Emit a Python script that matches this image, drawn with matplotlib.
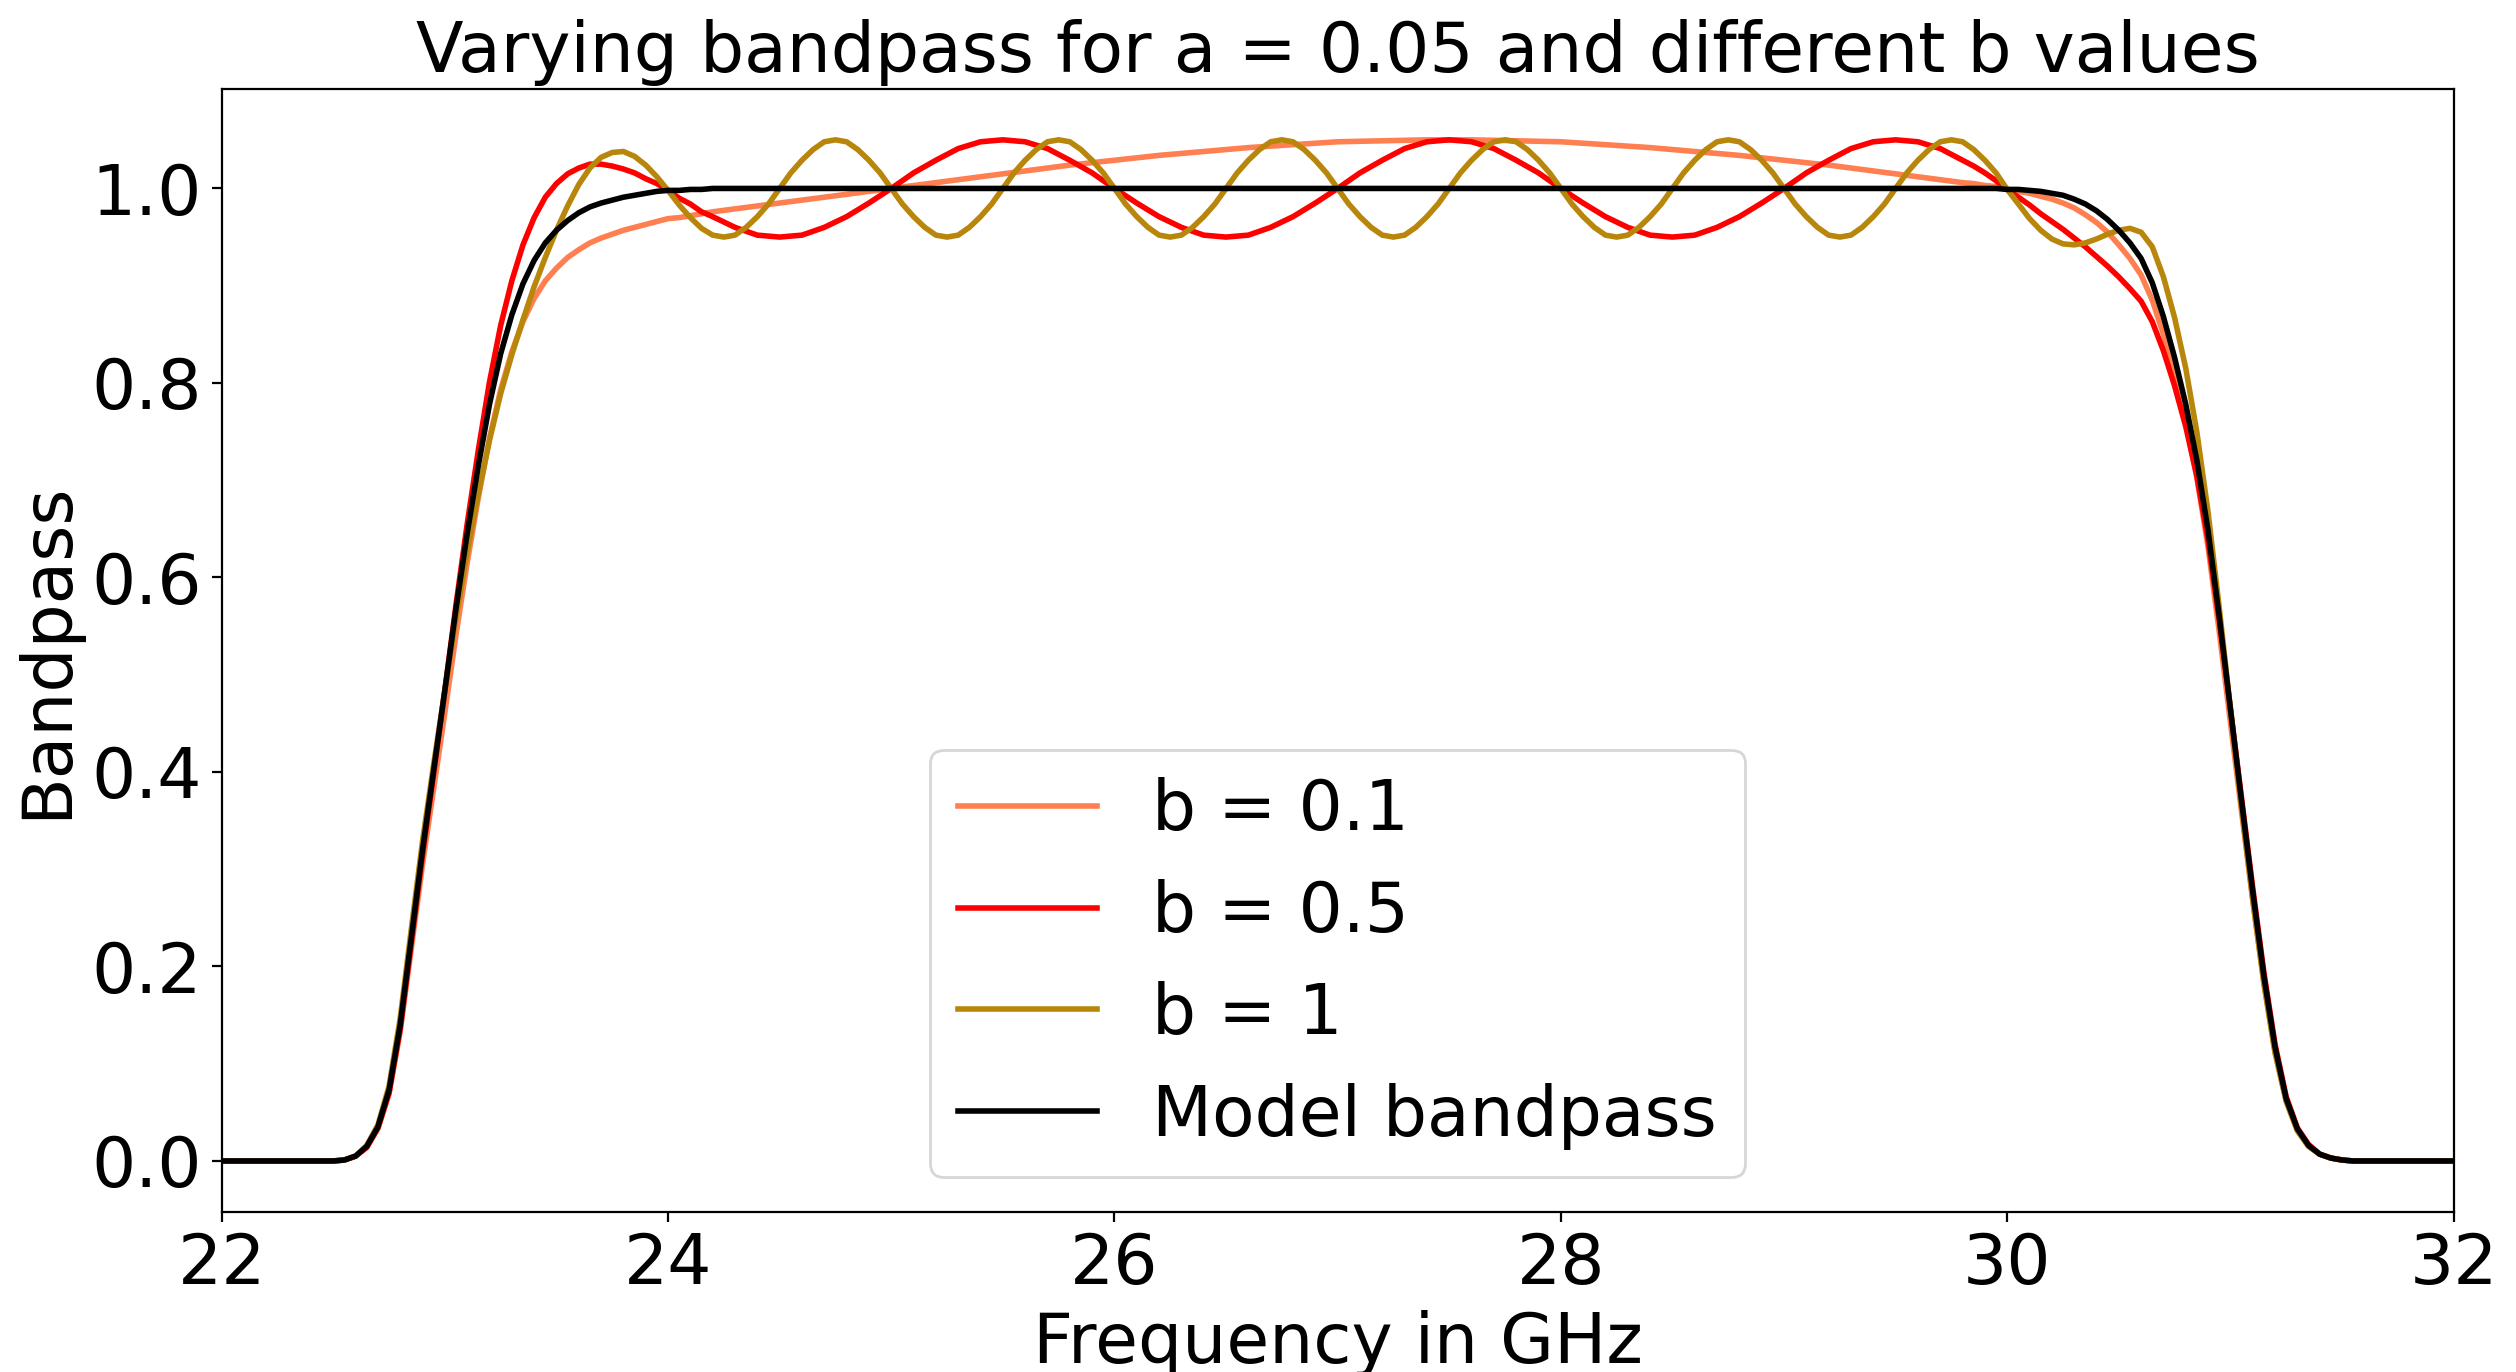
import matplotlib
matplotlib.use("Agg")
import matplotlib.pyplot as plt

# ---------------- data ----------------
FREQ_START = [22.0]
FREQ_END = [32.0]
FREQ_RISE = [22.50, 22.55, 22.60, 22.65, 22.70, 22.75, 22.80, 22.85, 22.90, 22.95,
             23.00, 23.05, 23.10, 23.15, 23.20, 23.25, 23.30, 23.35, 23.40, 23.45,
             23.50, 23.55, 23.60, 23.65, 23.70, 23.75, 23.80, 23.85, 23.90, 23.95,
             24.00, 24.05, 24.10, 24.15, 24.20]
FREQ_FALL = [29.80, 29.85, 29.90, 29.95,
             30.00, 30.05, 30.10, 30.15, 30.20, 30.25, 30.30, 30.35, 30.40, 30.45,
             30.50, 30.55, 30.60, 30.65, 30.70, 30.75, 30.80, 30.85, 30.90, 30.95,
             31.00, 31.05, 31.10, 31.15, 31.20, 31.25, 31.30, 31.35, 31.40, 31.45,
             31.50, 31.55]

# Model bandpass
model_rise = [0.000, 0.001, 0.005, 0.015, 0.035, 0.073, 0.140, 0.230, 0.320, 0.402,
              0.484, 0.568, 0.645, 0.715, 0.778, 0.830, 0.870, 0.902, 0.926, 0.944,
              0.957, 0.967, 0.975, 0.981, 0.985, 0.988, 0.991, 0.993, 0.995, 0.997,
              0.998, 0.998, 0.999, 0.999, 1.000]
model_fall = [1.000, 1.000, 1.000, 1.000,
              0.999, 0.999, 0.998, 0.997, 0.995, 0.993, 0.989, 0.984, 0.977, 0.968,
              0.957, 0.944, 0.928, 0.903, 0.868, 0.826, 0.778, 0.720, 0.648, 0.560,
              0.465, 0.370, 0.277, 0.190, 0.117, 0.064, 0.033, 0.016, 0.007, 0.003,
              0.001, 0.000]

# b = 0.1
b01_plateau_freq = [24.4, 24.6, 24.8, 25.0, 25.2, 25.4, 25.6, 25.8, 26.0, 26.2,
                    26.4, 26.6, 26.8, 27.0, 27.2, 27.4, 27.6, 27.8, 28.0, 28.2,
                    28.4, 28.6, 28.8, 29.0, 29.2, 29.4, 29.6]
b01_rise = [0.000, 0.001, 0.005, 0.014, 0.033, 0.069, 0.133, 0.219, 0.305, 0.383,
            0.461, 0.541, 0.615, 0.682, 0.743, 0.793, 0.832, 0.863, 0.887, 0.905,
            0.918, 0.929, 0.937, 0.944, 0.949, 0.953, 0.957, 0.960, 0.963, 0.966,
            0.969, 0.970, 0.972, 0.974, 0.976]
b01_plateau = [0.982, 0.988, 0.994, 1.000, 1.006, 1.012, 1.018, 1.024, 1.029, 1.034,
               1.038, 1.042, 1.045, 1.048, 1.049, 1.050, 1.050, 1.049, 1.048, 1.045,
               1.042, 1.038, 1.034, 1.029, 1.024, 1.018, 1.012]
b01_fall = [1.006, 1.005, 1.003, 1.002,
            0.999, 0.997, 0.995, 0.992, 0.989, 0.985, 0.980, 0.973, 0.965, 0.955,
            0.942, 0.928, 0.911, 0.885, 0.850, 0.807, 0.759, 0.702, 0.631, 0.544,
            0.451, 0.359, 0.268, 0.184, 0.113, 0.062, 0.032, 0.015, 0.007, 0.003,
            0.001, 0.000]

# b = 0.5
b05_plateau_freq = [24.3, 24.4, 24.5, 24.6, 24.7, 24.8, 24.9,
                    25.0, 25.1, 25.2, 25.3, 25.4, 25.5, 25.6, 25.7, 25.8, 25.9,
                    26.0, 26.1, 26.2, 26.3, 26.4, 26.5, 26.6, 26.7, 26.8, 26.9,
                    27.0, 27.1, 27.2, 27.3, 27.4, 27.5, 27.6, 27.7, 27.8, 27.9,
                    28.0, 28.1, 28.2, 28.3, 28.4, 28.5, 28.6, 28.7, 28.8, 28.9,
                    29.0, 29.1, 29.2, 29.3, 29.4, 29.5, 29.6, 29.7]
b05_rise = [0.000, 0.001, 0.005, 0.014, 0.034, 0.070, 0.136, 0.225, 0.315, 0.399,
            0.484, 0.572, 0.655, 0.731, 0.801, 0.859, 0.905, 0.942, 0.970, 0.991,
            1.005, 1.015, 1.021, 1.025, 1.025, 1.023, 1.020, 1.016, 1.010, 1.005,
            0.998, 0.990, 0.984, 0.976, 0.971]
b05_plateau = [0.960, 0.952, 0.950, 0.952, 0.960, 0.971, 0.985,
               1.000, 1.016, 1.029, 1.041, 1.048, 1.050, 1.048, 1.041, 1.029, 1.016,
               1.000, 0.985, 0.971, 0.960, 0.952, 0.950, 0.952, 0.960, 0.971, 0.985,
               1.000, 1.016, 1.029, 1.041, 1.048, 1.050, 1.048, 1.041, 1.029, 1.016,
               1.000, 0.985, 0.971, 0.960, 0.952, 0.950, 0.952, 0.960, 0.971, 0.985,
               1.000, 1.016, 1.029, 1.041, 1.048, 1.050, 1.048, 1.041]
b05_fall = [1.029, 1.023, 1.016, 1.008,
            0.999, 0.991, 0.983, 0.974, 0.966, 0.958, 0.949, 0.940, 0.930, 0.920,
            0.909, 0.897, 0.884, 0.863, 0.833, 0.797, 0.755, 0.704, 0.638, 0.556,
            0.465, 0.373, 0.281, 0.194, 0.120, 0.066, 0.034, 0.017, 0.007, 0.003,
            0.001, 0.000]

# b = 1
b1_plateau_freq = [24.25, 24.30, 24.35, 24.40, 24.45, 24.50, 24.55, 24.60, 24.65, 24.70,
                   24.75, 24.80, 24.85, 24.90, 24.95,
                   25.00, 25.05, 25.10, 25.15, 25.20, 25.25, 25.30, 25.35, 25.40, 25.45,
                   25.50, 25.55, 25.60, 25.65, 25.70, 25.75, 25.80, 25.85, 25.90, 25.95,
                   26.00, 26.05, 26.10, 26.15, 26.20, 26.25, 26.30, 26.35, 26.40, 26.45,
                   26.50, 26.55, 26.60, 26.65, 26.70, 26.75, 26.80, 26.85, 26.90, 26.95,
                   27.00, 27.05, 27.10, 27.15, 27.20, 27.25, 27.30, 27.35, 27.40, 27.45,
                   27.50, 27.55, 27.60, 27.65, 27.70, 27.75, 27.80, 27.85, 27.90, 27.95,
                   28.00, 28.05, 28.10, 28.15, 28.20, 28.25, 28.30, 28.35, 28.40, 28.45,
                   28.50, 28.55, 28.60, 28.65, 28.70, 28.75, 28.80, 28.85, 28.90, 28.95,
                   29.00, 29.05, 29.10, 29.15, 29.20, 29.25, 29.30, 29.35, 29.40, 29.45,
                   29.50, 29.55, 29.60, 29.65, 29.70, 29.75]
b1_rise = [0.000, 0.001, 0.005, 0.016, 0.037, 0.077, 0.147, 0.239, 0.329, 0.408,
           0.484, 0.559, 0.626, 0.686, 0.741, 0.789, 0.829, 0.865, 0.899, 0.929,
           0.957, 0.982, 1.004, 1.021, 1.032, 1.037, 1.038, 1.033, 1.024, 1.012,
           0.998, 0.983, 0.970, 0.959, 0.952]
b1_plateau = [0.950, 0.952, 0.960, 0.971, 0.984, 1.000, 1.016, 1.029, 1.040, 1.048,
              1.050, 1.048, 1.040, 1.029, 1.016,
              1.000, 0.984, 0.971, 0.960, 0.952, 0.950, 0.952, 0.960, 0.971, 0.984,
              1.000, 1.016, 1.029, 1.040, 1.048, 1.050, 1.048, 1.040, 1.029, 1.016,
              1.000, 0.984, 0.971, 0.960, 0.952, 0.950, 0.952, 0.960, 0.971, 0.984,
              1.000, 1.016, 1.029, 1.040, 1.048, 1.050, 1.048, 1.040, 1.029, 1.016,
              1.000, 0.984, 0.971, 0.960, 0.952, 0.950, 0.952, 0.960, 0.971, 0.984,
              1.000, 1.016, 1.029, 1.040, 1.048, 1.050, 1.048, 1.040, 1.029, 1.016,
              1.000, 0.984, 0.971, 0.960, 0.952, 0.950, 0.952, 0.960, 0.971, 0.984,
              1.000, 1.016, 1.029, 1.040, 1.048, 1.050, 1.048, 1.040, 1.029, 1.016,
              1.000, 0.984, 0.971, 0.960, 0.952, 0.950, 0.952, 0.960, 0.971, 0.984,
              1.000, 1.016, 1.029, 1.040, 1.048, 1.050]
b1_fall = [1.048, 1.040, 1.029, 1.016,
           0.999, 0.984, 0.969, 0.957, 0.948, 0.943, 0.942, 0.944, 0.948, 0.953,
           0.957, 0.959, 0.955, 0.940, 0.909, 0.867, 0.815, 0.749, 0.667, 0.569,
           0.465, 0.364, 0.269, 0.182, 0.111, 0.061, 0.031, 0.015, 0.007, 0.003,
           0.001, 0.000]

labels = ["b = 0.1", "b = 0.5", "b = 1", "Model bandpass"]
colors = ["coral", "red", "darkgoldenrod", "black"]

# ---------------- assemble series ----------------
series = [
    (FREQ_START + FREQ_RISE + b01_plateau_freq + FREQ_FALL + FREQ_END,
     [0.0] + b01_rise + b01_plateau + b01_fall + [0.0]),
    (FREQ_START + FREQ_RISE + b05_plateau_freq + FREQ_FALL + FREQ_END,
     [0.0] + b05_rise + b05_plateau + b05_fall + [0.0]),
    (FREQ_START + FREQ_RISE + b1_plateau_freq + FREQ_FALL + FREQ_END,
     [0.0] + b1_rise + b1_plateau + b1_fall + [0.0]),
    (FREQ_START + FREQ_RISE + FREQ_FALL + FREQ_END,
     [0.0] + model_rise + model_fall + [0.0]),
]

FS = 25
fig = plt.figure(figsize=(12.58, 6.86), dpi=200)
ax = fig.add_axes([0.0881, 0.1166, 0.8871, 0.8187])

for (x, y), lab, col in zip(series, labels, colors):
    ax.plot(x, y, color=col, lw=2, label=lab)

ax.set_xlim(22, 32)
ax.set_title("Varying bandpass for a = 0.05 and different b values", fontsize=FS)
ax.set_xlabel("Frequency in GHz", fontsize=FS)
ax.set_ylabel("Bandpass", fontsize=FS)
ax.tick_params(labelsize=FS)
ax.legend(loc="lower center", fontsize=FS)

fig.savefig("out.png", dpi=200)
